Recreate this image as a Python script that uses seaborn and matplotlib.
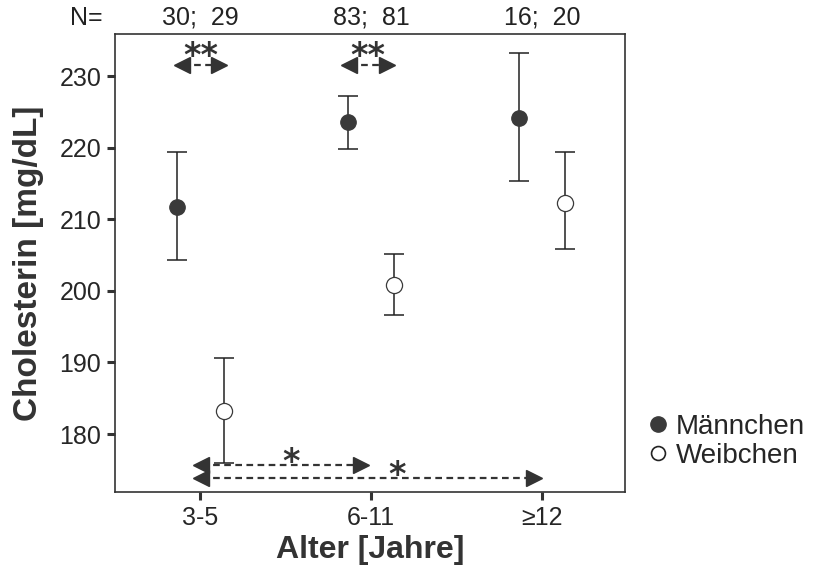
import numpy as np
import pandas as pd
import matplotlib
matplotlib.use("Agg")
import matplotlib.pyplot as plt
import seaborn as sns

# values
groups = ["3-5", "6-11", "\u226512"]
n_labels = ["30;  29", "83;  81", "16;  20"]
male_mean = [211.7, 223.6, 224.1]
male_lo = [204.3, 219.8, 215.3]
male_hi = [219.4, 227.3, 233.2]
female_mean = [183.2, 200.8, 212.3]
female_lo = [176.0, 196.6, 205.8]
female_hi = [190.6, 205.1, 219.4]

sns.set_theme(style="ticks")
plt.rcParams["font.family"] = ["Liberation Sans", "DejaVu Sans"]

df = pd.DataFrame({
    "pos": list(range(3)) * 2,
    "sex": ["Männchen"] * 3 + ["Weibchen"] * 3,
    "mean": male_mean + female_mean,
    "lo": male_lo + female_lo,
    "hi": male_hi + female_hi,
})
offset = {"Männchen": -0.135, "Weibchen": 0.135}
df["x"] = df["pos"] + df["sex"].map(offset)

fig = plt.figure(figsize=(8.14, 5.7), dpi=100)
ax = fig.add_axes([0.1413, 0.1368, 0.6265, 0.8036])

ax.errorbar(df["x"], df["mean"], yerr=[df["mean"] - df["lo"], df["hi"] - df["mean"]],
            fmt="none", ecolor="#222222", elinewidth=1.1, capsize=7, capthick=1.1, zorder=2)
male = df[df["sex"] == "Männchen"]
fem = df[df["sex"] == "Weibchen"]
sns.scatterplot(data=male, x="x", y="mean", color="#3a3a3a", edgecolor="#3a3a3a",
                linewidth=0.8, s=125, ax=ax, zorder=3, legend=False)
sns.scatterplot(data=fem, x="x", y="mean", color="white", edgecolor="#3a3a3a",
                linewidth=0.9, s=135, ax=ax, zorder=3, legend=False)

# significance arrows: (left x, right x, y, star x, label)
comparisons = [
    (-0.145, 0.145, 231.5, 0.0, "**"),
    (0.835, 1.125, 231.5, 0.98, "**"),
    (-0.03, 0.975, 175.7, 0.53, "*"),
    (-0.03, 1.985, 173.9, 1.15, "*"),
]
arrow_col = "#333333"
for x0, x1, y, xs, lab in comparisons:
    ax.plot([x0 + 0.04, x1 - 0.04], [y, y], ls=(0, (3, 2)), color=arrow_col, lw=1.6, zorder=5)
    ax.plot([x0 + 0.035], [y], marker="<", ms=11, color=arrow_col, zorder=5)
    ax.plot([x1 - 0.035], [y], marker=">", ms=11, color=arrow_col, zorder=5)
    dy = -0.05 if lab == "**" else -1.0
    ax.text(xs, y + dy, lab, ha="center", va="baseline", fontsize=24, fontweight="bold",
            color=arrow_col, zorder=6, family=["DejaVu Sans"])

ax.set_xlim(-0.5, 2.485)
ax.set_ylim(171.9, 235.9)
ax.set_xticks(range(3))
ax.set_xticklabels(groups)
ax.set_yticks([180, 190, 200, 210, 220, 230])
ax.tick_params(axis="both", length=6, width=2.2, color="#333333", pad=4)
ax.tick_params(axis="x", labelsize=18)
ax.tick_params(axis="y", labelsize=18)
ax.set_xlabel("Alter [Jahre]", fontsize=23, fontweight="bold", color="#333333", labelpad=4)
ax.set_ylabel("Cholesterin [mg/dL]", fontsize=24, fontweight="bold", color="#333333", labelpad=11)
for sp in ax.spines.values():
    sp.set_visible(True)
    sp.set_linewidth(1.2)
    sp.set_color("#333333")

# sample sizes above the plot
for i, lab in enumerate(n_labels):
    ax.text(i, 1.02, lab, transform=ax.get_xaxis_transform(), ha="center", va="baseline",
            fontsize=18, color="#222222")
ax.text(-0.67, 1.02, "N=", transform=ax.get_xaxis_transform(), ha="center", va="baseline",
        fontsize=18, color="#222222")

handles = [
    plt.Line2D([], [], marker="o", ls="none", ms=11, mfc="#3a3a3a", mec="#3a3a3a"),
    plt.Line2D([], [], marker="o", ls="none", ms=10, mfc="white", mec="#222222", mew=1.2),
]
fig.legend(handles, ["Männchen", "Weibchen"], loc="center left", bbox_to_anchor=(0.762, 0.226),
           frameon=False, fontsize=20, handletextpad=0.2, labelspacing=0.1, handlelength=0.9)

fig.savefig("out.png", dpi=100)
